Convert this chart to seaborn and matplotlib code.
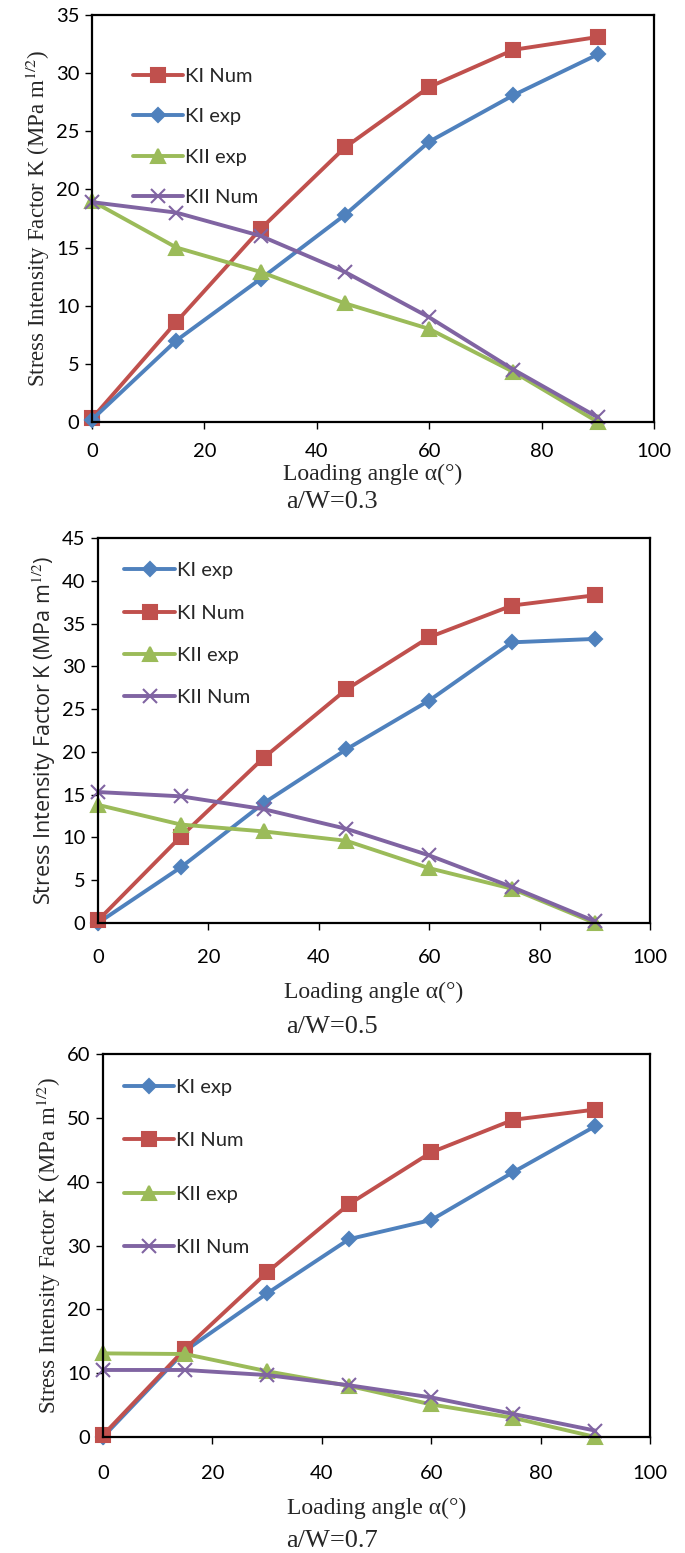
import matplotlib
matplotlib.use("Agg")
import matplotlib.pyplot as plt
import seaborn as sns

# loading angle (degrees)
angle = [0, 15, 30, 45, 60, 75, 90]

# a/W = 0.3
ki_num_03 = [0.3, 8.6, 16.6, 23.6, 28.8, 32.0, 33.1]
ki_exp_03 = [0.2, 7.0, 12.3, 17.8, 24.1, 28.1, 31.6]
kii_exp_03 = [19.0, 15.0, 12.9, 10.2, 8.0, 4.3, 0.0]
kii_num_03 = [18.9, 18.0, 16.0, 12.9, 9.0, 4.5, 0.4]

# a/W = 0.5
ki_exp_05 = [0.0, 6.5, 14.0, 20.3, 26.0, 32.8, 33.2]
ki_num_05 = [0.3, 10.1, 19.3, 27.3, 33.4, 37.1, 38.3]
kii_exp_05 = [13.8, 11.5, 10.7, 9.6, 6.4, 4.0, 0.0]
kii_num_05 = [15.3, 14.8, 13.3, 11.0, 7.9, 4.2, 0.2]

# a/W = 0.7
ki_exp_07 = [0.0, 13.5, 22.5, 31.0, 34.0, 41.5, 48.7]
ki_num_07 = [0.3, 13.8, 25.8, 36.5, 44.6, 49.7, 51.3]
kii_exp_07 = [13.1, 13.0, 10.3, 8.0, 5.1, 3.0, 0.0]
kii_num_07 = [10.5, 10.5, 9.7, 8.1, 6.2, 3.6, 1.0]

captions = ["a/W=0.3", "a/W=0.5", "a/W=0.7"]
y_max = [35, 45, 60]
y_step = [5, 5, 10]

blue = "#4F81BD"
red = "#C0504D"
green = "#9BBB59"
purple = "#8064A2"

style = {
    "KI Num": dict(color=red, marker="s", markersize=10),
    "KI exp": dict(color=blue, marker="D", markersize=7),
    "KII exp": dict(color=green, marker="^", markersize=10),
    "KII Num": dict(color=purple, marker="x", markersize=10),
}

panels = [
    [("KI Num", ki_num_03), ("KI exp", ki_exp_03), ("KII exp", kii_exp_03), ("KII Num", kii_num_03)],
    [("KI exp", ki_exp_05), ("KI Num", ki_num_05), ("KII exp", kii_exp_05), ("KII Num", kii_num_05)],
    [("KI exp", ki_exp_07), ("KI Num", ki_num_07), ("KII exp", kii_exp_07), ("KII Num", kii_num_07)],
]

sns.set_theme(style="ticks")
plt.rcParams["font.family"] = ["Lato", "DejaVu Sans"]
plt.rcParams["mathtext.fontset"] = "stix"

fig = plt.figure(figsize=(6.85, 15.53), dpi=100)

# axes boxes in figure fraction (left, bottom, width, height)
boxes = [
    (0.1343, 0.7283, 0.8204, 0.2621),
    (0.1431, 0.4057, 0.8058, 0.2479),
    (0.1504, 0.0747, 0.7985, 0.2466),
]
caption_y = [0.6765, 0.3390, 0.0075]
serif_ylabel = [True, False, True]
legend_anchor = [(0.040, 0.914), (0.015, 0.984), (0.005, 0.982)]
legend_spacing = [1.15, 1.25, 1.8]
xtick_pad = [10, 14, 15.5]
xlabel_pad = [3, 11, 11]

for i, series in enumerate(panels):
    ax = fig.add_axes(boxes[i])
    for name, vals in series:
        st = style[name]
        sns.lineplot(x=angle, y=vals, ax=ax, color=st["color"], linewidth=2.8,
                     marker=st["marker"], markersize=st["markersize"],
                     markeredgecolor=st["color"], markeredgewidth=1.5,
                     label=name, clip_on=False)
    ax.set_xlim(0, 100)
    ax.set_ylim(0, y_max[i])
    ax.set_xticks(range(0, 101, 20))
    ax.set_yticks(range(0, y_max[i] + 1, y_step[i]))
    ax.tick_params(labelsize=14.5, length=5, width=1, colors="black", direction="out")
    ax.tick_params(axis="x", pad=xtick_pad[i])
    ax.tick_params(axis="y", pad=4)
    for sp in ax.spines.values():
        sp.set_visible(True)
        sp.set_color("black")
        sp.set_linewidth(1.6)
    ax.set_xlabel("Loading angle α(°)", family="Liberation Serif", fontsize=17,
                  labelpad=xlabel_pad[i])
    if serif_ylabel[i]:
        ax.set_ylabel("Stress Intensity Factor K (MPa m$^{1/2}$)", family="Liberation Serif",
                      fontsize=16.5, labelpad=3)
    else:
        ax.set_ylabel("Stress Intensity Factor K (MPa m$^{1/2}$)", family="Open Sans",
                      fontsize=15.5, labelpad=3)
    ax.legend(loc="upper left", bbox_to_anchor=legend_anchor[i], frameon=False,
              fontsize=14.5, labelspacing=legend_spacing[i], handlelength=2.5,
              handletextpad=0.1)
    fig.text(0.485, caption_y[i], captions[i], ha="center", va="center",
             family="Liberation Serif", fontsize=19)

fig.savefig("out.png", dpi=100)
